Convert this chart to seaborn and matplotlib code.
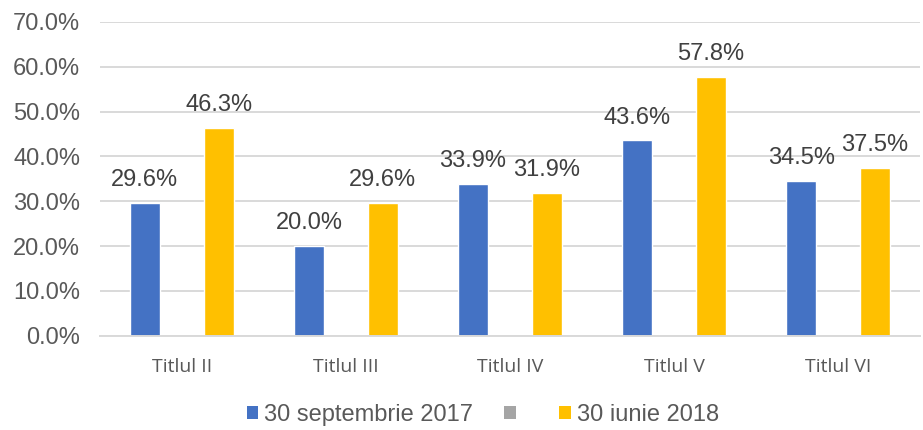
import numpy as np
import pandas as pd
import seaborn as sns
import matplotlib

matplotlib.use("Agg")
import matplotlib.pyplot as plt
from matplotlib.patches import Patch

# data
categories = ["Titlul II", "Titlul III", "Titlul IV", "Titlul V", "Titlul VI"]
sep_2017 = [29.6, 20.0, 33.9, 43.6, 34.5]
empty_series = [np.nan, np.nan, np.nan, np.nan, np.nan]
iun_2018 = [46.3, 29.6, 31.9, 57.8, 37.5]
series_names = ["30 septembrie 2017", " ", "30 iunie 2018"]

_BLUE = "#4472c4"
_GRAY = "#a5a5a5"
_YELLOW = "#ffc000"
_GRID = "#d9d9d9"
_TICK = "#595959"
_LABEL = "#404040"

df = pd.DataFrame({
    "cat": categories * 3,
    "series": [series_names[0]] * 5 + [series_names[1]] * 5 + [series_names[2]] * 5,
    "value": sep_2017 + empty_series + iun_2018,
})

sns.set_style("white")
plt.rcParams["font.family"] = ["Liberation Sans", "DejaVu Sans"]

fig = plt.figure(figsize=(9.23, 4.30), dpi=100)
ax = fig.add_axes([0.108, 0.219, 0.889, 0.730])

palette = dict(zip(series_names, [_BLUE, _GRAY, _YELLOW]))
sns.barplot(
    data=df, x="cat", y="value", hue="series",
    hue_order=series_names, palette=palette,
    width=0.675, gap=0.19, errorbar=None, legend=False,
    saturation=1, ax=ax,
)

# value labels only for the two real series
for cont, name in zip(ax.containers, series_names):
    if name.strip():
        ax.bar_label(cont, fmt="%.1f%%", padding=8.5, fontsize=17, color=_LABEL)

ax.set_ylim(0, 70)
ax.set_yticks(np.arange(0, 71, 10))
ax.set_yticklabels([f"{v:.1f}%" for v in np.arange(0, 71, 10)])
ax.grid(True, axis="y", color=_GRID, linewidth=1.4)
ax.set_axisbelow(True)
for side in ("top", "right", "left"):
    ax.spines[side].set_visible(False)
ax.spines["bottom"].set_color(_GRID)
ax.spines["bottom"].set_linewidth(1.4)
ax.tick_params(axis="y", length=0, pad=14, labelsize=17, labelcolor=_TICK)
ax.tick_params(axis="x", length=0, pad=16, labelsize=14, labelcolor=_TICK)
for lbl in ax.get_xticklabels():
    lbl.set_family(["Open Sans", "DejaVu Sans"])
ax.set_xlabel("")
ax.set_ylabel("")

handles = [Patch(facecolor=c, edgecolor="none") for c in (_BLUE, _GRAY, _YELLOW)]
leg = fig.legend(
    handles, series_names, loc="center", bbox_to_anchor=(0.523, 0.035),
    ncol=3, frameon=False, handlelength=0.5, handleheight=0.5,
    handletextpad=0.25, columnspacing=1.3,
    prop={"family": ["Liberation Sans", "DejaVu Sans"], "size": 17},
)
for t in leg.get_texts():
    t.set_color(_TICK)

fig.savefig("out.png", dpi=100)
